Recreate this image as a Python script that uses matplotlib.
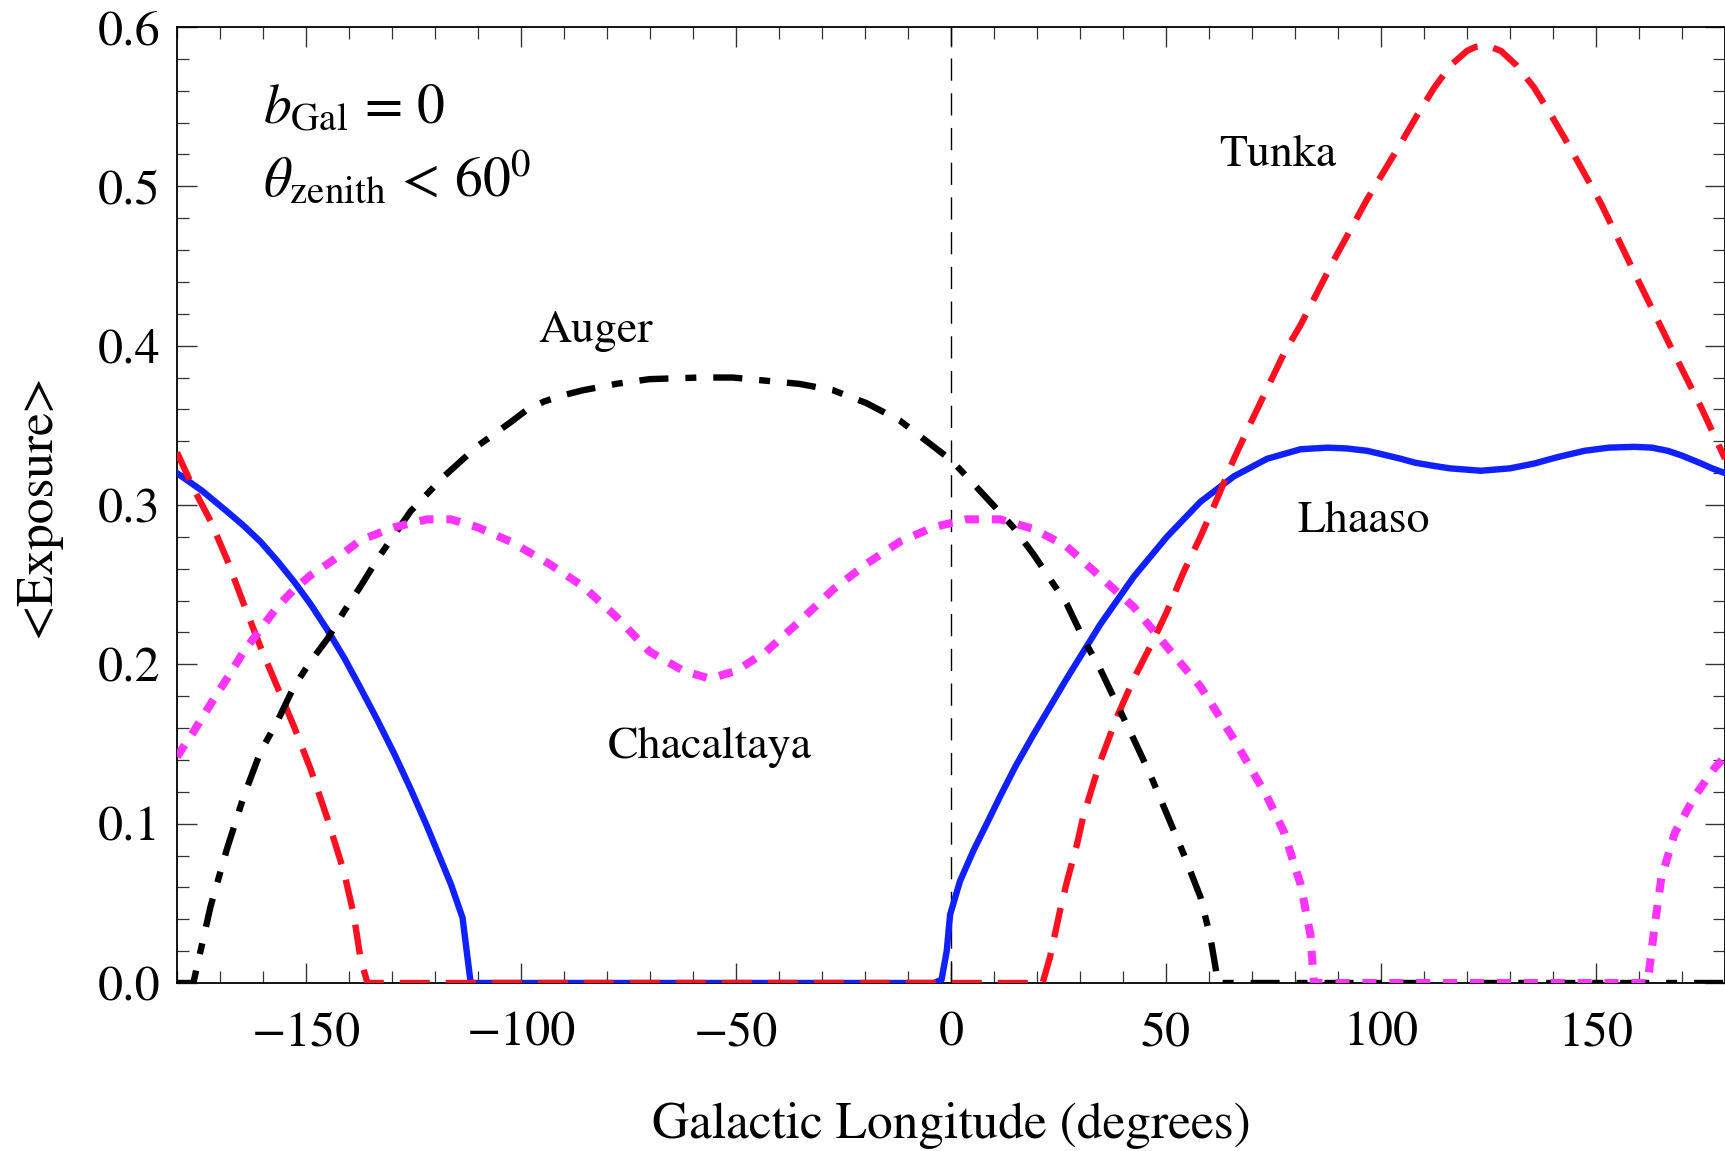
import matplotlib
matplotlib.use("Agg")
import matplotlib.pyplot as plt
from matplotlib.ticker import MultipleLocator

# --- data ---
lhaaso_x = [-180, -174.2, -168.4, -164.5, -160.6, -156.7, -152.8, -149, -145, -141, -137.3, -133.4,
            -129.5, -125.7, -121.8, -116.3, -113.6, -111.7,
            -4.0, -2.2, -1.0, -0.2, 2.1, 5.2, 8.5, 11.4, 15.0, 19.2, 26.9, 34.7, 42.5, 50.2, 58, 65.8,
            73.5, 81.3, 87.5, 92, 96.8, 100, 104.6, 108, 112.4, 116, 123.2, 130, 135.6, 141, 147.3,
            153, 158.9, 163, 166.7, 170, 174.5, 177, 180]
lhaaso_y = [0.320, 0.309, 0.296, 0.287, 0.277, 0.265, 0.252, 0.238, 0.2215, 0.2035, 0.185, 0.165,
            0.144, 0.122, 0.098, 0.062, 0.041, 0.0,
            0.0, 0.002, 0.020, 0.043, 0.064, 0.083, 0.101, 0.117, 0.136, 0.156, 0.191, 0.225, 0.255,
            0.280, 0.302, 0.318, 0.329, 0.335, 0.336, 0.3355, 0.334, 0.332, 0.329, 0.3265, 0.3245,
            0.323, 0.3215, 0.323, 0.326, 0.330, 0.334, 0.336, 0.3365, 0.336, 0.334, 0.331, 0.326,
            0.323, 0.320]

tunka_x = [-180, -176.1, -172.2, -168.4, -164.5, -160.6, -156.7, -152.8, -148.9, -145, -141.2, -138.9,
           -137.3, -135.7, 21.3, 23.0, 25.4, 26.9, 29.3, 30.8, 34.7, 38.6, 42.5, 46.3, 50.2, 54.1, 58,
           61.9, 65.8, 69.6, 73.5, 77.4, 81.3, 89.1, 96.8, 104.6, 108.5, 112.4, 116.2, 120.0, 122.0,
           123.7, 125.5, 127.9, 131.5, 135.6, 139.5, 143.4, 151.2, 158.9, 166.7, 174.5, 180]
tunka_y = [0.333, 0.310, 0.290, 0.266, 0.238, 0.211, 0.186, 0.161, 0.134, 0.103, 0.070, 0.043,
           0.015, 0.0, 0.0, 0.016, 0.046, 0.063, 0.087, 0.105, 0.139, 0.167, 0.191, 0.211, 0.233, 0.258,
           0.280, 0.304, 0.329, 0.351, 0.373, 0.395, 0.413, 0.454, 0.492, 0.527, 0.545, 0.562, 0.576,
           0.585, 0.5875, 0.588, 0.5875, 0.585, 0.576, 0.562, 0.545, 0.527, 0.489, 0.446, 0.403,
           0.361, 0.329]

auger_x = [-180, -176.2, -172.2, -168.4, -164.5, -160.6, -156.7, -152.8, -148.9, -145, -141.2, -137.3,
           -133.4, -125.7, -117.9, -110.1, -102.4, -98.5, -94.6, -90, -85.6, -77.9, -70.1, -58.5, -50.7,
           -43, -35.2, -27.4, -19.7, -11.9, -4.2, 0.1, 3.6, 9.8, 14.5, 19.2, 26.9, 30.8, 34.7, 38.6,
           42.5, 46.3, 50.2, 54.1, 58, 60.3, 61.5, 62.0, 180]
auger_y = [0.0, 0.0, 0.048, 0.084, 0.117, 0.145, 0.164, 0.186, 0.202, 0.216, 0.233, 0.249,
           0.266, 0.296, 0.318, 0.337, 0.352, 0.360, 0.365, 0.369, 0.372, 0.376, 0.379, 0.380, 0.380,
           0.378, 0.376, 0.372, 0.364, 0.353, 0.337, 0.328, 0.318, 0.300, 0.286, 0.269, 0.238, 0.216,
           0.197, 0.175, 0.153, 0.131, 0.106, 0.081, 0.054, 0.029, 0.010, 0.0, 0.0]

chacaltaya_x = [-180, -176.1, -172.2, -168.4, -164.5, -160.6, -156.7, -152.8, -148.9, -145, -141.2,
                -137.3, -129.5, -121.8, -116.3, -110.1, -102.4, -93.4, -85.6, -77.9, -70.1, -62.3, -56.1,
                -49.9, -43, -35.2, -27.4, -19.7, -11.9, -4.2, 3.6, 11.4, 19.2, 26.9, 34.7, 42.5, 50.2, 58,
                65.8, 73.5, 77.4, 81.3, 83.6, 84.4, 162, 163.6, 165.2, 168.3, 172.9, 177.6, 180]
chacaltaya_y = [0.142, 0.158, 0.175, 0.191, 0.208, 0.222, 0.236, 0.247, 0.256, 0.263, 0.270,
                0.278, 0.286, 0.291, 0.291, 0.286, 0.277, 0.263, 0.249, 0.230, 0.208, 0.196, 0.191,
                0.196, 0.208, 0.227, 0.247, 0.263, 0.277, 0.286, 0.291, 0.291, 0.285, 0.274, 0.255,
                0.236, 0.211, 0.186, 0.153, 0.117, 0.095, 0.062, 0.030, 0.0, 0.0, 0.035, 0.066, 0.094,
                0.117, 0.135, 0.142]

plt.rcParams['font.family'] = 'STIXGeneral'
plt.rcParams['mathtext.fontset'] = 'stix'

W, H = 1725, 1151
fig = plt.figure(figsize=(W / 100, H / 100), dpi=100)
ax = fig.add_axes([177 / W, 1 - 983 / H, (W - 177) / W, (983 - 27) / H])

ax.plot(lhaaso_x, lhaaso_y, color='#1020ff', lw=4.6, solid_joinstyle='round', zorder=3)
ax.plot(tunka_x, tunka_y, color='#ff1020', lw=4.6, linestyle=(0, (4.7, 2.5)), zorder=4)
ax.plot(auger_x, auger_y, color='black', lw=4.6, linestyle=(0, (4.55, 2.65, 1.72, 2.65)), zorder=5)
ax.plot(chacaltaya_x, chacaltaya_y, color='#ff33ff', lw=5.8, linestyle=(0, (1.74, 1.6)), zorder=6)
ax.axvline(0, color='black', lw=1.0, linestyle=(0, (16, 9)), zorder=2)

ax.set_xlim(-180, 180)
ax.set_ylim(0, 0.6)
ax.xaxis.set_major_locator(MultipleLocator(50))
ax.xaxis.set_minor_locator(MultipleLocator(10))
ax.yaxis.set_major_locator(MultipleLocator(0.1))
ax.yaxis.set_minor_locator(MultipleLocator(0.02))
ax.yaxis.set_major_formatter(plt.FuncFormatter(lambda v, p: f"{v:.1f}"))
ax.tick_params(which='both', direction='in', top=True, right=True, color='#333333')
ax.tick_params(which='major', length=14.4, width=1.0, labelsize=36)
ax.tick_params(which='minor', length=8.6, width=0.9)
ax.tick_params(axis='x', pad=20)
ax.tick_params(axis='y', pad=12)
for s in ax.spines.values():
    s.set_linewidth(1.3)

fig.text(951 / W, 1 - 1138 / H, 'Galactic Longitude (degrees)', ha='center', va='baseline', fontsize=37)
fig.text(38 / W, 1 - 506 / H, '<Exposure>', rotation=90, ha='center', va='center', fontsize=37)

ax.text(-160, 0.5398, r'$b_{\mathrm{Gal}}\,=\,0$', fontsize=40, va='baseline')
ax.text(-160, 0.4935, r'$\theta_{\mathrm{zenith}}\,<\,60^0$', fontsize=40, va='baseline')
ax.text(-82.6, 0.402, 'Auger', fontsize=33, ha='center', va='baseline')
ax.text(75.9, 0.513, 'Tunka', fontsize=33, ha='center', va='baseline')
ax.text(95.9, 0.283, 'Lhaaso', fontsize=33, ha='center', va='baseline')
ax.text(-56.1, 0.141, 'Chacaltaya', fontsize=33, ha='center', va='baseline')

fig.savefig('out.png', dpi=100)
